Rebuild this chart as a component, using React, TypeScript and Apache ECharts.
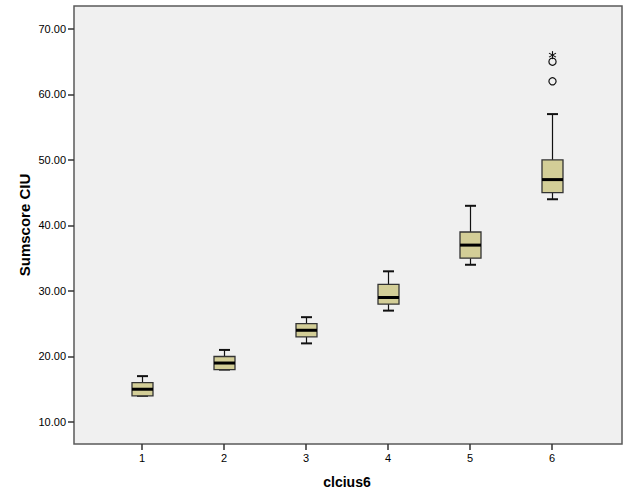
import React, { useEffect, useRef } from 'react';
import * as echarts from 'echarts';

const categories = ['1', '2', '3', '4', '5', '6'];
const whiskerLow = [14, 18, 22, 27, 34, 44];
const q1 = [14, 18, 23, 28, 35, 45];
const median = [15, 19, 24, 29, 37, 47];
const q3 = [16, 20, 25, 31, 39, 50];
const whiskerHigh = [17, 21, 26, 33, 43, 57];
const outlierCircles: [number, number][] = [[5, 62], [5, 65]];
const extremeStars: [number, number][] = [[5, 66]];
const yTicks = [10, 20, 30, 40, 50, 60, 70];
const yMin = 6.64;
const yMax = 73.5;

const FONT = '"Liberation Sans", Arial, sans-serif';

export default function App() {
  const ref = useRef<HTMLDivElement>(null);
  useEffect(() => {
    document.body.style.margin = '0';
    const chart = echarts.init(ref.current!, null, { renderer: 'svg' });
    const boxData = categories.map((_, i) => [i, whiskerLow[i], q1[i], median[i], q3[i], whiskerHigh[i]]);
    const option: any = {
      animation: false,
      backgroundColor: '#ffffff',
      grid: [
        { left: 101, top: 6, width: 492, height: 438, show: false },
        { left: 74, top: 6, width: 548, height: 438, show: true, backgroundColor: '#f0f0f0', borderColor: '#5a5a5a', borderWidth: 1.5, z: 0 },
      ],
      xAxis: [
        {
          gridIndex: 0,
          type: 'category',
          data: categories,
          boundaryGap: true,
          axisLine: { show: false },
          axisTick: { show: true, alignWithLabel: true, length: 6, lineStyle: { color: '#333', width: 1.5 } },
          axisLabel: { color: '#000', fontFamily: FONT, fontSize: 11, margin: 8 },
          name: 'clcius6',
          nameLocation: 'middle',
          nameGap: 31,
          nameMoveOverlap: false,
          nameTextStyle: { color: '#000', fontFamily: FONT, fontSize: 14, fontWeight: 'bold' },
          splitLine: { show: false },
        },
        { gridIndex: 1, type: 'value', show: false, min: 0, max: 1 },
      ],
      yAxis: [
        { gridIndex: 0, type: 'value', show: false, min: yMin, max: yMax },
        {
          gridIndex: 1,
          type: 'value',
          min: yMin,
          max: yMax,
          axisLine: { show: false },
          axisTick: { show: true, length: 6, customValues: yTicks, lineStyle: { color: '#333', width: 1.5 } },
          axisLabel: {
            customValues: yTicks,
            color: '#000',
            fontFamily: FONT,
            fontSize: 11,
            margin: 8,
            formatter: (v: number) => v.toFixed(2),
          },
          splitLine: { show: false },
          name: 'Sumscore CIU',
          nameLocation: 'middle',
          nameGap: 42,
          nameMoveOverlap: false,
          nameRotate: 90,
          nameTextStyle: { color: '#000', fontFamily: FONT, fontSize: 15, fontWeight: 'bold' },
        },
      ],
      series: [
        {
          type: 'custom',
          xAxisIndex: 0,
          yAxisIndex: 0,
          encode: { x: 0, y: [1, 2, 3, 4, 5] },
          data: boxData,
          renderItem: (params: any, api: any) => {
            const x = api.value(0);
            const lo = api.coord([x, api.value(1)]);
            const b1 = api.coord([x, api.value(2)]);
            const md = api.coord([x, api.value(3)]);
            const b3 = api.coord([x, api.value(4)]);
            const hi = api.coord([x, api.value(5)]);
            const cx = Math.round(lo[0]) + 0.5;
            const hw = 10.5;
            const cw = 5.5;
            const stroke = '#111';
            return {
              type: 'group',
              children: [
                { type: 'line', shape: { x1: cx, y1: lo[1], x2: cx, y2: b1[1] }, style: { stroke, lineWidth: 1.2 } },
                { type: 'line', shape: { x1: cx, y1: b3[1], x2: cx, y2: hi[1] }, style: { stroke, lineWidth: 1.2 } },
                { type: 'line', shape: { x1: cx - cw, y1: lo[1], x2: cx + cw, y2: lo[1] }, style: { stroke, lineWidth: 2 } },
                { type: 'line', shape: { x1: cx - cw, y1: hi[1], x2: cx + cw, y2: hi[1] }, style: { stroke, lineWidth: 2 } },
                {
                  type: 'rect',
                  shape: { x: cx - hw, y: b3[1], width: hw * 2, height: b1[1] - b3[1] },
                  style: { fill: '#d3ce97', stroke: '#333', lineWidth: 1.3 },
                },
                { type: 'line', shape: { x1: cx - hw, y1: md[1], x2: cx + hw, y2: md[1] }, style: { stroke: '#000', lineWidth: 3 } },
              ],
            };
          },
          z: 3,
        },
        {
          type: 'custom',
          xAxisIndex: 0,
          yAxisIndex: 0,
          encode: { x: 0, y: 1 },
          data: outlierCircles,
          renderItem: (params: any, api: any) => {
            const p = api.coord([api.value(0), api.value(1)]);
            return {
              type: 'circle',
              shape: { cx: Math.round(p[0]) + 0.5, cy: p[1], r: 3.6 },
              style: { fill: 'none', stroke: '#111', lineWidth: 1.2 },
            };
          },
          z: 4,
        },
        {
          type: 'custom',
          xAxisIndex: 0,
          yAxisIndex: 0,
          encode: { x: 0, y: 1 },
          data: extremeStars,
          renderItem: (params: any, api: any) => {
            const p = api.coord([api.value(0), api.value(1)]);
            const cx = Math.round(p[0]) + 0.5;
            const cy = p[1];
            const r = 4;
            const dx = r * Math.cos(Math.PI / 6);
            const dy = r * Math.sin(Math.PI / 6);
            const st = { stroke: '#111', lineWidth: 1.1 };
            return {
              type: 'group',
              children: [
                { type: 'line', shape: { x1: cx, y1: cy - r, x2: cx, y2: cy + r }, style: st },
                { type: 'line', shape: { x1: cx - dx, y1: cy - dy, x2: cx + dx, y2: cy + dy }, style: st },
                { type: 'line', shape: { x1: cx - dx, y1: cy + dy, x2: cx + dx, y2: cy - dy }, style: st },
              ],
            };
          },
          z: 4,
        },
      ],
    };
    chart.setOption(option);
    return () => chart.dispose();
  }, []);
  return <div ref={ref} style={{ position: 'absolute', left: 0, top: 0, width: 629, height: 504 }} />;
}
